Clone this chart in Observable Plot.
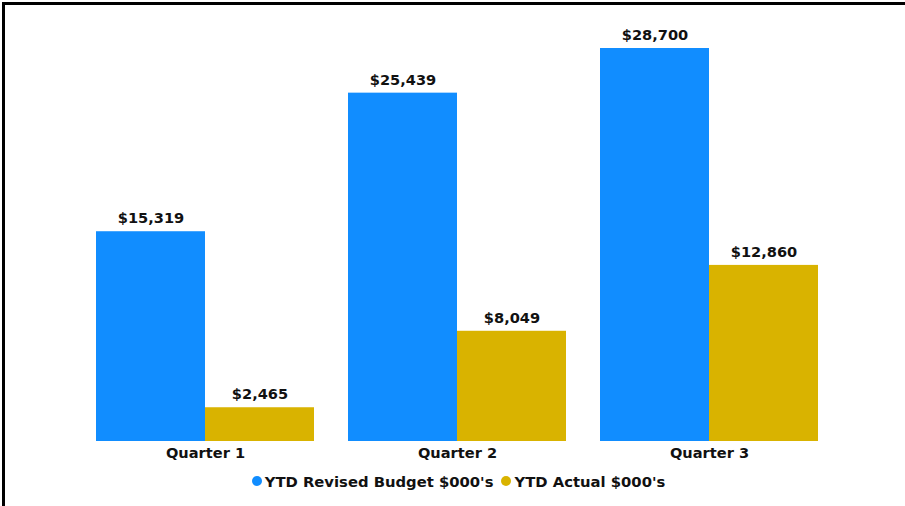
<!DOCTYPE html>
<html>
<head>
<meta charset="utf-8">
<script src="https://cdn.jsdelivr.net/npm/d3@7"></script>
<script src="https://cdn.jsdelivr.net/npm/@observablehq/plot@0.6"></script>
<style>
  html, body { margin: 0; padding: 0; background: #fff; width: 905px; height: 506px; overflow: hidden; }
  #wrap { position: relative; width: 905px; height: 506px; font-family: "DejaVu Sans", sans-serif; }
  #frame { position: absolute; left: 2px; top: 2px; width: 905px; height: 510px; border-top: 3px solid #000; border-left: 3px solid #000; box-sizing: border-box; pointer-events: none; }
  #chart { position: absolute; left: 0; top: 0; }
  #legend { position: absolute; left: 6px; top: 472px; width: 905px; text-align: center; font-size: 14.8px; font-weight: bold; color: #111; white-space: nowrap; }
  .item { display: inline-flex; align-items: center; margin: 0 4px; }
  .dot { width: 10px; height: 10px; border-radius: 50%; display: inline-block; margin-right: 3px; }
</style>
</head>
<body>
<div id="wrap">
  <div id="chart"></div>
  <div id="legend"></div>
  <div id="frame"></div>
</div>
<script>
const quarters = ["Quarter 1", "Quarter 2", "Quarter 3"];
const seriesNames = ["YTD Revised Budget $000's", "YTD Actual $000's"];
const budget = [15319, 25439, 28700];
const actual = [2465, 8049, 12860];
const colors = ["#118DFF", "#D9B300"];

const data = [];
quarters.forEach((q, i) => {
  data.push({quarter: q, series: seriesNames[0], value: budget[i]});
  data.push({quarter: q, series: seriesNames[1], value: actual[i]});
});

const fmt = v => "$" + d3.format(",")(v);

const chart = Plot.plot({
  width: 905,
  height: 466,
  marginTop: 48,
  marginBottom: 25,
  marginLeft: 96,
  marginRight: 87,
  style: {fontFamily: "DejaVu Sans, sans-serif", background: "transparent"},
  fx: {domain: quarters, paddingInner: 34 / 252, paddingOuter: 0, label: null, tickSize: 0, tickPadding: 6, axis: "bottom"},
  x: {domain: seriesNames, padding: 0, axis: null},
  y: {domain: [0, d3.max(budget)], axis: null},
  color: {domain: seriesNames, range: colors},
  marks: [
    Plot.barY(data, {fx: "quarter", x: "series", y: "value", fill: "series", inset: 0}),
    Plot.text(data, {fx: "quarter", x: "series", y: "value", text: d => fmt(d.value), dy: -13, fontWeight: "bold", fontSize: 14.6, fill: "#111"})
  ]
});
chart.querySelectorAll("g[aria-label='fx-axis tick label']").forEach(g => {
  g.setAttribute("font-weight", "bold");
  g.setAttribute("font-size", 14.6);
  g.setAttribute("fill", "#111");
});
document.getElementById("chart").appendChild(chart);

const legend = document.getElementById("legend");
seriesNames.forEach((s, i) => {
  const item = document.createElement("span");
  item.className = "item";
  const dot = document.createElement("span");
  dot.className = "dot";
  dot.style.background = colors[i];
  item.appendChild(dot);
  const t = document.createElement("span");
  t.textContent = s;
  item.appendChild(t);
  legend.appendChild(item);
});
</script>
</body>
</html>
